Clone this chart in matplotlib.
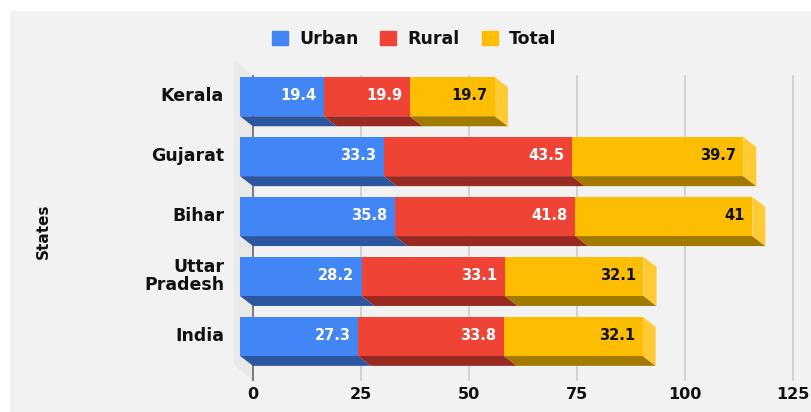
import matplotlib
matplotlib.use('Agg')
import matplotlib.pyplot as plt
from matplotlib.patches import Patch, Rectangle
from matplotlib.transforms import ScaledTranslation

states = ['Kerala', 'Gujarat', 'Bihar', 'Uttar\nPradesh', 'India']
urban = [19.4, 33.3, 35.8, 28.2, 27.3]
rural = [19.9, 43.5, 41.8, 33.1, 33.8]
total = [19.7, 39.7, 41, 32.1, 32.1]
x_ticks = [0, 25, 50, 75, 100, 125]

W, H = 811, 412
px_per_unit = 4.32
pitch = 59.9
dx = 13 / px_per_unit
dy = 10 / pitch
bar_h = 39 / pitch

fig = plt.figure(figsize=(W / 100, H / 100), dpi=100, facecolor='white')
fig.add_artist(Rectangle((10 / W, 0), 1, 1 - 11 / H, transform=fig.transFigure,
                         fc='#f2f2f2', ec='none', zorder=-10))

ax = fig.add_axes([240 / W, (H - 381) / H, (W - 240) / W, 306 / H])
ax.set_facecolor('none')
ax.set_xlim(0, (W - 240) / px_per_unit)
ax.set_ylim((381 - 96.75) / pitch, (75 - 96.75) / pitch)
for s in ax.spines.values():
    s.set_visible(False)

# back wall on the left of the plot
ax.fill([-6 / px_per_unit, dx, dx, -6 / px_per_unit],
        [(60 - 96.75) / pitch, (75 - 96.75) / pitch, (381 - 96.75) / pitch, (365 - 96.75) / pitch],
        color='#e9e9e9', clip_on=False, zorder=0, lw=0)

ax.set_axisbelow(True)
ax.set_xticks([v + dx for v in x_ticks], [str(v) for v in x_ticks])
ax.grid(axis='x', color='#cccccc', lw=1.2)
ax.xaxis.get_gridlines()[0].set_color('#666666')
ax.set_yticks(range(len(states)), states, linespacing=1.0)
ax.tick_params(length=0)
ax.tick_params(axis='x', pad=4, labelsize=11.5)
ax.tick_params(axis='y', pad=11.5, labelsize=12.5)
for lab in ax.get_xticklabels() + ax.get_yticklabels():
    lab.set_fontweight('bold')
    lab.set_color('#111111')
# state names sit a little above the bar centres
up = ScaledTranslation(0, 2 / 72, fig.dpi_scale_trans)
for lab in ax.get_yticklabels():
    lab.set_transform(lab.get_transform() + up)
ax.set_ylabel('States', fontsize=11, fontweight='bold', color='#111111')
ax.yaxis.set_label_coords((51 - 240) / (W - 240), 0.49)

series = [('Urban', urban, '#4285f4', '#2c569f', 'white'),
          ('Rural', rural, '#ee4335', '#982a22', 'white'),
          ('Total', total, '#fdbd00', '#a37a00', '#111111')]
left = [0] * len(states)
for name, vals, col, dark, txt in series:
    for i, v in enumerate(vals):
        x0, x1 = left[i], left[i] + v
        bot = i + bar_h / 2
        ax.fill([x0, x1, x1 + dx, x0 + dx], [bot, bot, bot + dy, bot + dy],
                color=dark, lw=0, zorder=3)
    ax.barh(range(len(states)), vals, bar_h, left=left, color=col, zorder=4)
    for i, v in enumerate(vals):
        ax.annotate(f'{v:g}', (left[i] + v, i), xytext=(-5.4, 0.7), textcoords='offset points',
                    ha='right', va='center', color=txt, fontsize=10.5, fontweight='bold', zorder=6)
    left = [a + b for a, b in zip(left, vals)]

# right end caps of the stacks
for i, end in enumerate(left):
    top, bot = i - bar_h / 2, i + bar_h / 2
    ax.fill([end, end + dx, end + dx, end], [top, top + dy, bot + dy, bot],
            color='#ffca33', lw=0, zorder=3)

handles = [Patch(color=s[2], label=s[0]) for s in series]
fig.legend(handles=handles, ncol=3, frameon=False, loc='center',
           bbox_to_anchor=(414 / W, 1 - 39 / H), prop={'size': 12.5, 'weight': 'bold'},
           handlelength=0.92, handleheight=0.8, handletextpad=0.63, columnspacing=1.27,
           labelcolor='#111111')

fig.savefig('out.png', dpi=100)
